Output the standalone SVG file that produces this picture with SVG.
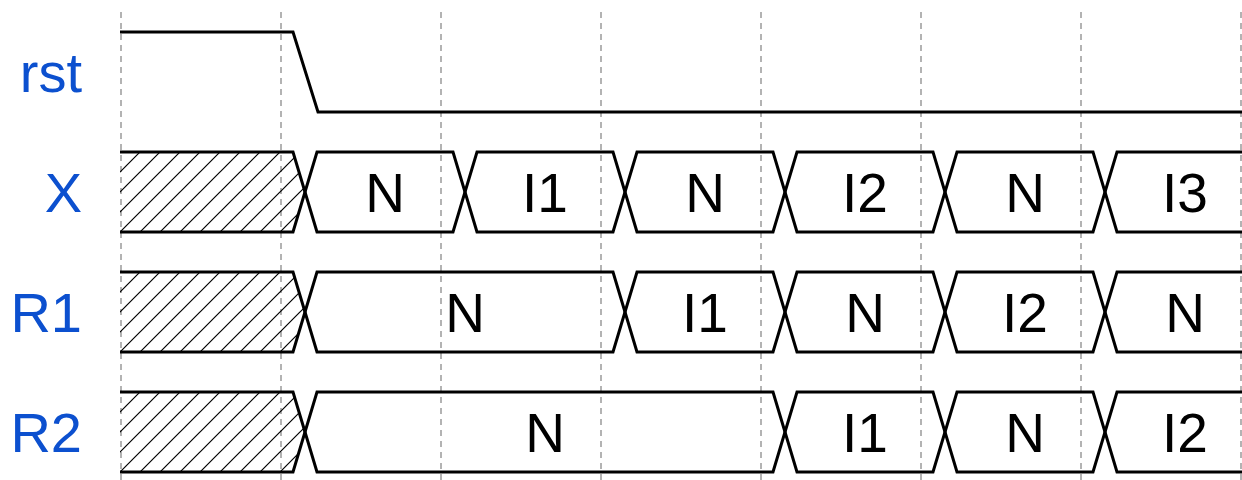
<svg xmlns="http://www.w3.org/2000/svg" width="1242" height="480" viewBox="0 0 1242 480">
<style>
.grid{stroke:#9a9a9a;stroke-width:1.5;stroke-dasharray:6 5;fill:none}
.wave{stroke:#000;stroke-width:3;fill:none;stroke-linejoin:miter}
.hatch{stroke:#000;stroke-width:1.2}
.lbl{font-family:"Liberation Sans",Arial,sans-serif;font-size:56px;fill:#0c50cf;text-anchor:end}
.val{font-family:"Liberation Sans",Arial,sans-serif;font-size:55px;fill:#000;text-anchor:middle}
</style>
<defs>
<pattern id="hp" patternUnits="userSpaceOnUse" width="20" height="20" patternTransform="translate(0,12)">
<path d="M-5,25 L25,-5 M-5,5 L5,-5 M15,25 L25,15" class="hatch"/>
</pattern>
</defs>
<rect width="1242" height="480" fill="#fff"/>
<g id="grid">
<line class="grid" x1="121" y1="12" x2="121" y2="480"/>
<line class="grid" x1="281" y1="12" x2="281" y2="480"/>
<line class="grid" x1="441" y1="12" x2="441" y2="480"/>
<line class="grid" x1="601" y1="12" x2="601" y2="480"/>
<line class="grid" x1="761" y1="12" x2="761" y2="480"/>
<line class="grid" x1="921" y1="12" x2="921" y2="480"/>
<line class="grid" x1="1081" y1="12" x2="1081" y2="480"/>
<line class="grid" x1="1241" y1="12" x2="1241" y2="480"/>
</g>
<g id="labels">
<text class="lbl" x="82" y="92">rst</text>
<text class="lbl" x="82" y="212">X</text>
<text class="lbl" x="82" y="332">R1</text>
<text class="lbl" x="82" y="452">R2</text>
</g>
<g id="rst">
<path class="wave" d="M120,32 H293 L318,112 H1242"/>
</g>
<g id="X">
<path d="M120,152 H293 L305,192 L293,232 H120 Z" fill="url(#hp)"/>
<path class="wave" d="M120,152 H293 L317,232 H453 L477,152 H613 L637,232 H773 L797,152 H933 L957,232 H1093 L1117,152 H1242"/>
<path class="wave" d="M120,232 H293 L317,152 H453 L477,232 H613 L637,152 H773 L797,232 H933 L957,152 H1093 L1117,232 H1242"/>
<text class="val" x="385" y="212">N</text>
<text class="val" x="545" y="212">I1</text>
<text class="val" x="705" y="212">N</text>
<text class="val" x="865" y="212">I2</text>
<text class="val" x="1025" y="212">N</text>
<text class="val" x="1185" y="212">I3</text>
</g>
<g id="R1">
<path d="M120,272 H293 L305,312 L293,352 H120 Z" fill="url(#hp)"/>
<path class="wave" d="M120,272 H293 L317,352 H613 L637,272 H773 L797,352 H933 L957,272 H1093 L1117,352 H1242"/>
<path class="wave" d="M120,352 H293 L317,272 H613 L637,352 H773 L797,272 H933 L957,352 H1093 L1117,272 H1242"/>
<text class="val" x="465" y="332">N</text>
<text class="val" x="705" y="332">I1</text>
<text class="val" x="865" y="332">N</text>
<text class="val" x="1025" y="332">I2</text>
<text class="val" x="1185" y="332">N</text>
</g>
<g id="R2">
<path d="M120,392 H293 L305,432 L293,472 H120 Z" fill="url(#hp)"/>
<path class="wave" d="M120,392 H293 L317,472 H773 L797,392 H933 L957,472 H1093 L1117,392 H1242"/>
<path class="wave" d="M120,472 H293 L317,392 H773 L797,472 H933 L957,392 H1093 L1117,472 H1242"/>
<text class="val" x="545" y="452">N</text>
<text class="val" x="865" y="452">I1</text>
<text class="val" x="1025" y="452">N</text>
<text class="val" x="1185" y="452">I2</text>
</g>
</svg>
